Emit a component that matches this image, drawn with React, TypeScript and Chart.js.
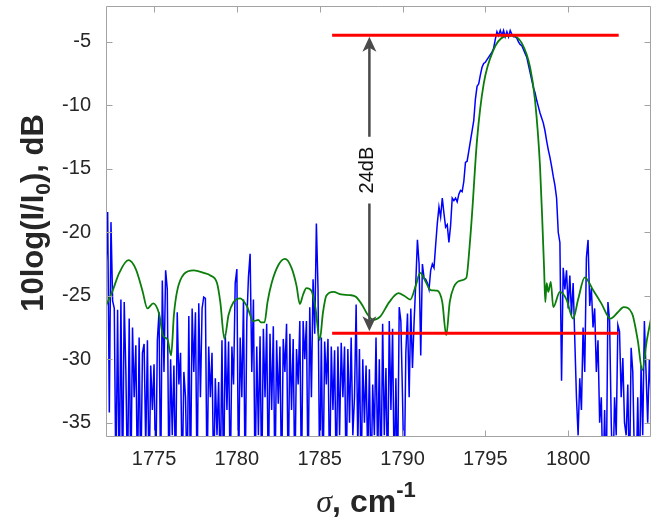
import React, { useEffect, useRef } from "react";
import { Chart, registerables } from "chart.js";

Chart.register(...registerables);

// ---- axes ----
const xTicks = [1775, 1780, 1785, 1790, 1795, 1800];
const yTicks = [-35, -30, -25, -20, -15, -10, -5];
const xMin = 1772.1;
const xMax = 1805.0;
const yMin = -36.13;
const yMax = -2.17;

// ---- blue (measured) spectrum, sampled every 0.1 cm-1 from 1772.1 ----
const blueStart = 1772.1;
const blueStep = 0.1;
const blueValues = [
  -23.0, -18.4, -34.2, -19.2, -25.4, -26.0, -40, -26.1, -40, -25.3,
  -40, -25.5, -31.0, -40, -26.8, -40, -27.5, -33.0, -28.9, -40,
  -28.3, -40, -29.5, -28.8, -37, -28.5, -40, -30.5, -34, -30.4,
  -40, -28.5, -26.3, -40, -23.8, -31, -23.0, -24.5, -40, -30.0,
  -36, -30.5, -40, -26.3, -32, -29.5, -40, -31.0, -33, -40,
  -26.6, -40, -26.0, -31, -26.3, -40, -25.6, -33, -26.0, -25.1,
  -25.2, -40, -29.0, -33, -29.5, -40, -31.5, -36, -31.8, -40,
  -28.5, -40, -28.0, -34, -28.6, -40, -29.0, -32, -24.0, -22.9,
  -40, -28.3, -33, -25.3, -40, -27.0, -23.5, -21.7, -31, -25.3,
  -40, -29.0, -36, -28.2, -40, -27.6, -33, -27.2, -40, -28.0,
  -34, -27.4, -40, -28.5, -33.5, -29.0, -40, -28.4, -31, -27.2,
  -40, -28.0, -34, -28.4, -40, -29.2, -32, -27.0, -40, -27.0,
  -30, -27.0, -40, -25.9, -33, -23.7, -28, -19.3, -24.5, -40,
  -28.3, -40, -28.6, -32, -28.4, -40, -29.0, -34, -29.3, -40,
  -29.0, -36, -28.7, -33, -29.0, -40, -29.2, -35, -28.3, -36,
  -33, -25.7, -37, -29.2, -40, -30.0, -35, -30.5, -38, -30.8,
  -40, -32, -36, -28.3, -38, -30, -40, -27.2, -36, -30.7,
  -40, -27.0, -34, -27.6, -40, -31.5, -40, -25.9, -27.0, -33,
  -40, -29.5, -26.4, -33, -26.0, -30.7, -27, -24, -20.6, -22.5,
  -29.7, -22.5, -23.6, -23.7, -24.0, -24.5, -23.0, -22.5, -22.8, -21.0,
  -19.3, -18.0, -18.8, -17.3, -18.5, -19.6, -19.4, -20.8, -19.5, -17.3,
  -17.5, -17.3, -17.6, -17.0, -16.7, -16.8, -16.0, -14.5, -14.4, -13.6,
  -12.8, -12.0, -11.2, -9.5, -8.5, -8.3, -7.6, -7.0, -6.7, -6.6,
  -6.4, -6.2, -6.0, -5.8, -5.5, -4.8, -4.2, -4.5, -4.1, -4.5,
  -4.1, -4.6, -4.2, -4.6, -4.1, -4.4, -4.6, -4.6, -4.7, -5.0,
  -5.2, -5.3, -5.6, -5.9, -6.2, -6.8, -7.4, -8.0, -8.6, -9.0,
  -9.6, -10.1, -10.6, -11.0, -11.4, -12.0, -12.8, -13.5, -14.1, -14.8,
  -15.6, -16.3, -17.3, -20.0, -20.8, -31.7, -22.8, -24.5, -23.0, -26.0,
  -23.4, -26.5, -24.0, -28.5, -33.0, -36, -31.5, -34, -27.5, -31,
  -22.0, -20.6, -25.8, -24.4, -27.5, -26.0, -31, -28.5, -35, -33,
  -40, -34, -40, -25.5, -27.0, -35, -40, -33, -36, -27.3,
  -27.8, -33, -29.9, -35, -36, -32, -40, -29.1, -31, -38,
  -40, -33, -40, -30.5, -36, -27.0, -31, -35, -30, -33,
];

// ---- green (simulated) spectrum ----
const greenX = [
  1772.1, 1772.5, 1772.9, 1773.45, 1773.9, 1774.3, 1774.6, 1774.95, 1775.3, 1775.56,
  1775.8, 1776.03, 1776.2, 1776.4, 1776.8, 1777.4, 1778.0, 1778.4, 1778.8, 1779.0,
  1779.25, 1779.5, 1779.8, 1780.2, 1780.6, 1781.0, 1781.3, 1781.45, 1781.67, 1781.85,
  1782.1, 1782.5, 1782.9, 1783.3, 1783.6, 1783.8, 1784.0, 1784.2, 1784.5, 1784.75,
  1785.0, 1785.2, 1785.4, 1785.83, 1786.3, 1786.84, 1787.2, 1787.6, 1787.85, 1788.25,
  1788.65, 1789.2, 1789.76, 1790.1, 1790.47, 1790.8, 1791.07, 1791.4, 1791.7, 1792.1,
  1792.4, 1792.64, 1792.85, 1793.1, 1793.5, 1793.85, 1794.05, 1794.2, 1794.5, 1794.9,
  1795.5, 1796.1, 1796.6, 1797.2, 1797.7, 1798.0, 1798.3, 1798.45, 1798.55, 1798.62,
  1798.7, 1798.8, 1798.95, 1799.1, 1799.5, 1799.9, 1800.3, 1800.6, 1801.0, 1801.5,
  1802.0, 1802.55, 1803.0, 1803.35, 1803.86, 1804.2, 1804.47, 1804.75, 1805.0,
];
const greenY = [
  -25.8, -24.6, -23.2, -22.2, -22.9, -24.6, -26.0, -25.6, -26.4, -28.2,
  -28.4, -29.7, -26.5, -24.6, -23.3, -23.0, -23.2, -23.4, -24.0, -25.5,
  -28.4, -26.5, -25.5, -25.2, -25.8, -27.0, -26.9, -27.1, -27.1, -25.5,
  -24.0, -22.6, -22.1, -22.8, -24.2, -25.65, -24.9, -24.4, -24.6, -26.0,
  -28.5, -26.3, -25.0, -24.7, -24.9, -24.95, -25.1, -25.8, -26.4, -26.9,
  -26.65, -25.5, -24.8, -25.0, -25.3, -24.2, -23.2, -23.9, -24.55, -24.6,
  -25.5, -28.1, -25.5, -24.3, -23.8, -23.6, -21.1, -18.5, -12.7, -8.3,
  -5.6, -4.6, -4.5, -5.1, -7.0, -9.6, -14.8, -19.5, -23.0, -25.5,
  -24.0, -24.7, -23.9, -25.9, -24.7, -25.3, -26.8, -25.3, -23.55, -24.55,
  -25.6, -26.8, -26.3, -25.9, -26.4, -28.5, -30.85, -28.5, -26.8,
];

// ---- annotation ----
const redX = [1785.75, 1803.05];
const redTopY = -4.47;
const redBottomY = -27.95;
const arrowX = 1788.0;
const arrowTopY = -4.6;
const arrowBottomY = -27.8;
const arrowLabel = "24dB";
const arrowLabelY = -15.1;

const SANS = "'Liberation Sans', Arial, Helvetica, sans-serif";

type Seg = { text: string; font: string; dy?: number };

function drawSegs(ctx: CanvasRenderingContext2D, segs: Seg[], cx: number, cy: number, rot: number) {
  ctx.save();
  ctx.translate(cx, cy);
  ctx.rotate(rot);
  ctx.textBaseline = "alphabetic";
  ctx.textAlign = "left";
  let total = 0;
  const widths = segs.map((s) => {
    ctx.font = s.font;
    const w = ctx.measureText(s.text).width;
    total += w;
    return w;
  });
  let x = -total / 2;
  segs.forEach((s, i) => {
    ctx.font = s.font;
    ctx.fillText(s.text, x, s.dy || 0);
    x += widths[i];
  });
  ctx.restore();
}

const framePlugin = {
  id: "frame",
  afterDatasetsDraw(chart: any) {
    const { ctx, scales } = chart;
    const xs = scales.x;
    const ys = scales.y;
    const ax = xs.getPixelForValue(arrowX);
    const yTop = ys.getPixelForValue(arrowTopY);
    const yBot = ys.getPixelForValue(arrowBottomY);
    const yLab = ys.getPixelForValue(arrowLabelY);
    ctx.save();
    ctx.font = `20px ${SANS}`;
    const tw = ctx.measureText(arrowLabel).width;
    const gap = tw / 2 + 10;
    const headLen = 15;
    const headW = 7;
    const col = "#4a4a4a";
    ctx.strokeStyle = col;
    ctx.fillStyle = col;
    ctx.lineWidth = 2.5;
    ctx.beginPath();
    ctx.moveTo(ax, yTop + 10);
    ctx.lineTo(ax, yLab - gap);
    ctx.moveTo(ax, yLab + gap);
    ctx.lineTo(ax, yBot - 10);
    ctx.stroke();
    // heads
    ctx.beginPath();
    ctx.moveTo(ax, yTop);
    ctx.lineTo(ax - headW, yTop + headLen);
    ctx.lineTo(ax, yTop + headLen - 4);
    ctx.lineTo(ax + headW, yTop + headLen);
    ctx.closePath();
    ctx.fill();
    ctx.beginPath();
    ctx.moveTo(ax, yBot);
    ctx.lineTo(ax - headW, yBot - headLen);
    ctx.lineTo(ax, yBot - headLen + 4);
    ctx.lineTo(ax + headW, yBot - headLen);
    ctx.closePath();
    ctx.fill();
    // label
    ctx.translate(ax - 2, yLab);
    ctx.rotate(-Math.PI / 2);
    ctx.textAlign = "center";
    ctx.textBaseline = "middle";
    ctx.fillStyle = "#111111";
    ctx.fillText(arrowLabel, 0, 0);
    ctx.restore();
  },
  afterDraw(chart: any) {
    const { ctx, chartArea: ca, scales } = chart;
    const xs = scales.x;
    const ys = scales.y;
    ctx.save();
    ctx.strokeStyle = "#a3a3a3";
    ctx.lineWidth = 1;
    const L = Math.round(ca.left) + 0.5;
    const R = Math.round(ca.right) - 0.5;
    const T = Math.round(ca.top) + 0.5;
    const B = Math.round(ca.bottom) - 0.5;
    ctx.beginPath();
    ctx.rect(L, T, R - L, B - T);
    const tl = 6;
    xTicks.forEach((v) => {
      const px = Math.round(xs.getPixelForValue(v)) + 0.5;
      ctx.moveTo(px, B);
      ctx.lineTo(px, B - tl);
      ctx.moveTo(px, T);
      ctx.lineTo(px, T + tl);
    });
    yTicks.forEach((v) => {
      const py = Math.round(ys.getPixelForValue(v)) + 0.5;
      ctx.moveTo(L, py);
      ctx.lineTo(L + tl, py);
      ctx.moveTo(R, py);
      ctx.lineTo(R - tl, py);
    });
    ctx.stroke();
    ctx.fillStyle = "#262626";
    // y title
    drawSegs(
      ctx,
      [
        { text: "10log(I/I", font: `bold 31px ${SANS}` },
        { text: "0", font: `bold 21px ${SANS}`, dy: 7 },
        { text: "), dB", font: `bold 31px ${SANS}` },
      ],
      43,
      213,
      -Math.PI / 2
    );
    // x title
    drawSegs(
      ctx,
      [
        { text: "σ", font: `italic 32px 'Liberation Serif', 'DejaVu Serif', serif` },
        { text: ", cm", font: `bold 32px ${SANS}` },
        { text: "-1", font: `bold 22px ${SANS}`, dy: -15 },
      ],
      366,
      512,
      0
    );
    ctx.restore();
  },
};

export default function App() {
  const ref = useRef<HTMLCanvasElement>(null);
  useEffect(() => {
    const canvas = ref.current;
    if (!canvas) return;
    const blueData = blueValues.map((v, i) => ({ x: Number((blueStart + i * blueStep).toFixed(2)), y: v }));
    const greenData = greenX.map((x, i) => ({ x, y: greenY[i] }));
    const chart = new Chart(canvas, {
      type: "line",
      data: {
        datasets: [
          {
            data: redX.map((x) => ({ x, y: redTopY })),
            borderColor: "#ff0000",
            borderWidth: 3,
            pointRadius: 0,
          },
          {
            data: redX.map((x) => ({ x, y: redBottomY })),
            borderColor: "#ff0000",
            borderWidth: 3,
            pointRadius: 0,
          },
          {
            data: greenData,
            borderColor: "#0a7d0a",
            borderWidth: 1.8,
            pointRadius: 0,
            cubicInterpolationMode: "monotone",
            clip: 0,
          },
          {
            data: blueData,
            borderColor: "#0000ff",
            borderWidth: 1.5,
            pointRadius: 0,
            tension: 0,
            clip: 0,
          },
        ] as any,
      },
      options: {
        responsive: false,
        animation: false,
        devicePixelRatio: 1,
        layout: { padding: { left: 0, top: 6, right: 13, bottom: 0 } },
        plugins: { legend: { display: false }, tooltip: { enabled: false } },
        scales: {
          x: {
            type: "linear",
            min: xMin,
            max: xMax,
            grid: { display: false },
            border: { display: false },
            ticks: {
              font: { family: SANS, size: 20 },
              color: "#262626",
              padding: 2,
              maxRotation: 0,
              autoSkip: false,
              callback: (v: any) => String(v),
            },
            afterBuildTicks: (s: any) => {
              s.ticks = xTicks.map((v) => ({ value: v }));
            },
            afterFit: (s: any) => {
              s.height = 84;
              s.paddingLeft = 0;
              s.paddingRight = 0;
            },
          },
          y: {
            type: "linear",
            min: yMin,
            max: yMax,
            grid: { display: false },
            border: { display: false },
            ticks: {
              font: { family: SANS, size: 20 },
              color: "#262626",
              padding: 7,
              autoSkip: false,
              callback: (v: any) => String(v),
            },
            afterBuildTicks: (s: any) => {
              s.ticks = yTicks.map((v) => ({ value: v }));
            },
            afterFit: (s: any) => {
              s.width = 106;
              s.paddingTop = 0;
              s.paddingBottom = 0;
            },
          },
        },
      } as any,
      plugins: [framePlugin],
    });
    return () => chart.destroy();
  }, []);
  return (
    <div style={{ position: "fixed", left: 0, top: 0, width: 664, height: 521, background: "#fff" }}>
      <canvas ref={ref} width={664} height={521} style={{ display: "block" }} />
    </div>
  );
}
